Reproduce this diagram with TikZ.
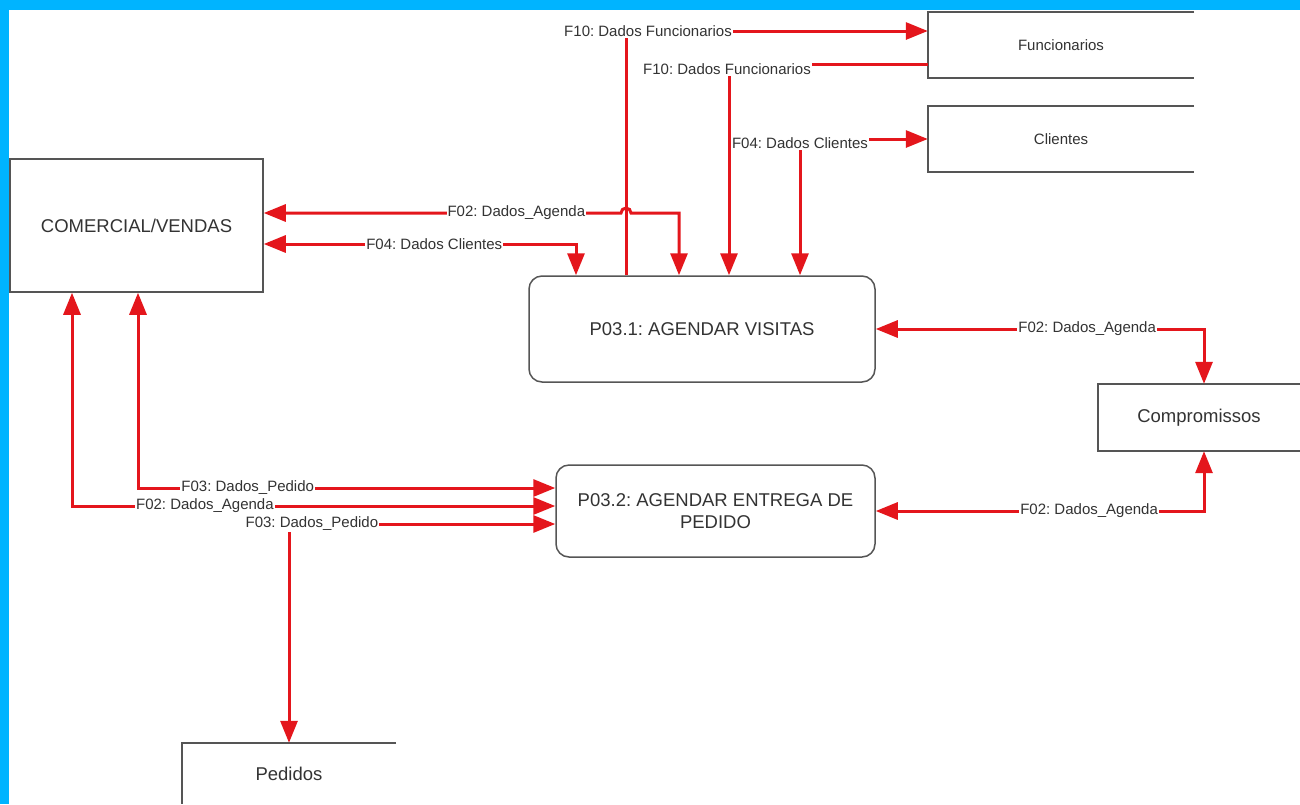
\documentclass[tikz,border=0pt]{standalone}
\usepackage{fontspec}
\setmainfont{Liberation Sans}
\usetikzlibrary{arrows.meta}
\definecolor{vermelho}{RGB}{228,22,28}
\definecolor{moldura}{RGB}{0,180,255}
\definecolor{borda}{RGB}{85,85,85}
\definecolor{texto}{RGB}{51,51,51}
\frenchspacing
\begin{document}
\begin{tikzpicture}[x=1pt,y=1pt,
	>={Triangle[length=22pt,width=17pt]},
	every node/.style={text=texto,font=\fontsize{18.5}{22}\selectfont},
	ent/.style={draw=borda,line width=1.5pt,minimum width=253pt,minimum height=133pt},
	proc/.style={draw=borda,line width=1.5pt,rounded corners=13pt,align=center},
	store/.style={minimum width=#1,minimum height=66pt},
	fluxo/.style={draw=vermelho,line width=3pt},
	rot/.style={fill=white,inner sep=1pt,font=\fontsize{15}{17}\selectfont}]
\useasboundingbox (0,0) rectangle (1300,-804);
\fill[white] (0,0) rectangle (1300,-804);
\fill[moldura] (0,0) rectangle (9,-804);
\fill[moldura] (0,0) rectangle (1300,-10);

% entidade externa e processos
\node[ent] (com) at (136.5,-225.5) {COMERCIAL/VENDAS};
\node[proc,minimum width=346pt,minimum height=106pt] (p31) at (702,-329) {P03.1: AGENDAR VISITAS};
\node[proc,minimum width=319pt,minimum height=92pt] (p32) at (715.5,-511) {P03.2: AGENDAR ENTREGA DE\\PEDIDO};

% depositos de dados
\node[store=266pt,font=\fontsize{15}{17}\selectfont] (fun) at (1061,-45) {Funcionarios};
\node[store=266pt,font=\fontsize{15}{17}\selectfont] (cli) at (1061,-139) {Clientes};
\node[store=202pt,minimum height=67pt] (comp) at (1199,-417.5) {Compromissos};
\node[store=214pt,minimum height=61pt] (ped) at (289,-773.5) {Pedidos};
\foreach \s in {fun,cli,comp}
	\draw[borda,line width=1.5pt] (\s.north east) -- (\s.north west) -- (\s.south west) -- (\s.south east);
\draw[borda,line width=1.5pt] (ped.north east) -- (ped.north west) -- (ped.south west);

% fluxos
\draw[fluxo,->] (p31.north -| 626,0) -- (626,-31) -- node[rot,pos=0.073]{F10: Dados Funcionarios} (fun.west |- 0,-31);
\draw[fluxo,->] (fun.west |- 0,-64) -- (729,-64) node[rot,xshift=-2pt,yshift=-5pt]{F10: Dados Funcionarios} -- (p31.north -| 729,0);
\draw[fluxo,<->] (p31.north -| 800,0) -- (800,-139) node[rot,yshift=-4pt]{F04: Dados Clientes} -- (cli.west);
\draw[fluxo,<->] (com.east |- 0,-213) -- node[rot,pos=0.707]{F02: Dados\_Agenda} (621,-213)
	arc[start angle=180,end angle=0,radius=5pt] -- (679,-213) -- (p31.north -| 679,0);
\draw[fluxo,<->] (com.east |- 0,-244) -- node[rot,pos=0.546]{F04: Dados Clientes} (576,-244) -- (p31.north -| 576,0);
\draw[fluxo,<->] (p31.east) -- node[rot,pos=0.644]{F02: Dados\_Agenda} (1204,-329) -- (comp.north -| 1204,0);
\draw[fluxo,<->] (p32.east) -- node[rot,pos=0.65]{F02: Dados\_Agenda} (1204,-511) -- (comp.south -| 1204,0);
\draw[fluxo,<->] (com.south -| 138,0) -- (138,-488) -- node[rot,pos=0.263]{F03: Dados\_Pedido} (p32.west |- 0,-488);
\draw[fluxo,<->] (com.south -| 72,0) -- (72,-506) -- node[rot,pos=0.275]{F02: Dados\_Agenda} (p32.west |- 0,-506);
\draw[fluxo,<->] (ped.north) -- (289,-524) -- node[rot,pos=0.086]{F03: Dados\_Pedido} (p32.west |- 0,-524);
\end{tikzpicture}
\end{document}
